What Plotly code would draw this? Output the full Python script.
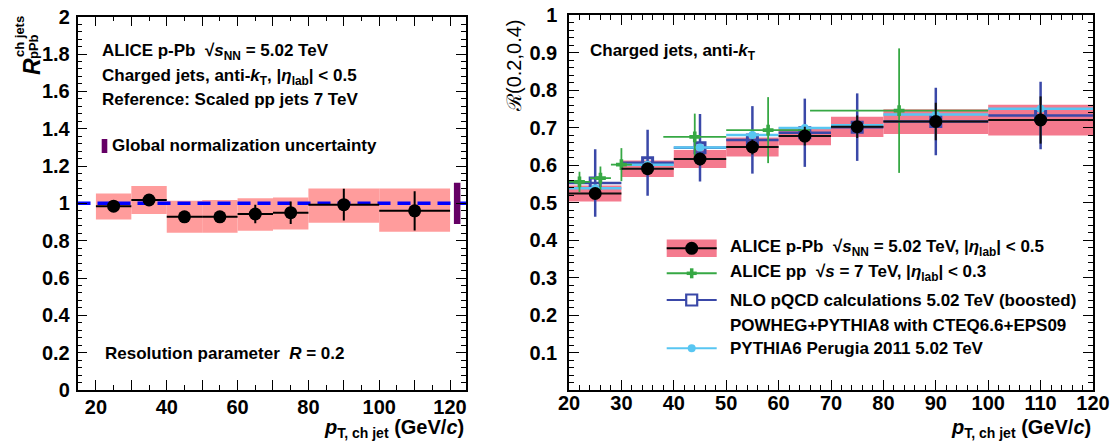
import plotly.graph_objects as go

# ---------------- data : left panel (R_pPb) ----------------
rppb_x = [25, 35, 45, 55, 65, 75, 90, 110]
rppb_halfw = [5, 5, 5, 5, 5, 5, 10, 10]
rppb_y = [0.985, 1.018, 0.928, 0.928, 0.943, 0.950, 0.993, 0.960]
rppb_stat = [0.02, 0.02, 0.02, 0.02, 0.05, 0.06, 0.085, 0.105]
rppb_sys_lo = [0.914, 0.943, 0.843, 0.843, 0.853, 0.860, 0.896, 0.848]
rppb_sys_hi = [1.053, 1.093, 1.014, 1.018, 1.027, 1.032, 1.080, 1.080]
glob_x = [122]
glob_y = [1.0]
glob_unc = [0.11]
ref_line = [1.0]

# ---------------- data : right panel (R(0.2,0.4)) ----------------
rat_x = [25, 35, 45, 55, 65, 75, 90, 110]
rat_halfw = [5, 5, 5, 5, 5, 5, 10, 10]
rat_y = [0.524, 0.590, 0.616, 0.648, 0.677, 0.702, 0.716, 0.720]
rat_stat = [0.012, 0.015, 0.017, 0.020, 0.025, 0.030, 0.050, 0.063]
rat_sys = [0.021, 0.022, 0.024, 0.025, 0.024, 0.027, 0.033, 0.041]

nlo_y = [0.552, 0.606, 0.646, 0.667, 0.686, 0.701, 0.716, 0.732]
nlo_err = [0.090, 0.088, 0.090, 0.090, 0.091, 0.090, 0.090, 0.090]

py6_y = [0.538, 0.601, 0.647, 0.680, 0.699, 0.706, 0.735, 0.750]

pp_x = [22, 26, 30, 44, 58, 83]
pp_xlo = [20, 24, 28, 38, 50, 66]
pp_xhi = [24, 28, 32, 50, 66, 100]
pp_y = [0.555, 0.565, 0.601, 0.675, 0.693, 0.745]
pp_err = [0.027, 0.031, 0.044, 0.062, 0.088, 0.166]

# tick labels
left_xticks = [20, 30, 40, 50, 60, 70, 80, 90, 100, 110, 120]
left_xtext = ["20", " ", "40", " ", "60", " ", "80", " ", "100", " ", "120"]
left_yticks = [0, 0.2, 0.4, 0.6, 0.8, 1.0, 1.2, 1.4, 1.6, 1.8, 2.0]
left_ytext = ["0", "0.2", "0.4", "0.6", "0.8", "1", "1.2", "1.4", "1.6", "1.8", "2"]
right_xticks = [20, 30, 40, 50, 60, 70, 80, 90, 100, 110, 120]
right_xtext = ["20", "30", "40", "50", "60", "70", "80", "90", "100", "110", "120"]
right_yticks = [0.1, 0.2, 0.3, 0.4, 0.5, 0.6, 0.7, 0.8, 0.9, 1.0]
right_ytext = ["0.1", "0.2", "0.3", "0.4", "0.5", "0.6", "0.7", "0.8", "0.9", "1"]

# ---------------- styling ----------------
W, H = 1118, 445
FONT = "Liberation Sans, Arial, Helvetica, sans-serif"
PINK_L = "#ff9c9c"
PINK_R = "#f47a8e"
PURPLE = "#650065"
BLUE = "#3a48a8"
LBLUE = "#58c6f2"
GREEN = "#36a844"


def px(x):
    return x / W


def py(y):
    return 1 - y / H


L_XR = [14.8, 124.5]
R_XR = [20, 120]

fig = go.Figure()

# ---- left panel ----
fig.add_trace(go.Bar(
    x=rppb_x, y=[h - l for h, l in zip(rppb_sys_hi, rppb_sys_lo)], base=rppb_sys_lo,
    width=[2 * w for w in rppb_halfw], marker=dict(color=PINK_L, line=dict(width=0)),
    xaxis="x", yaxis="y", hoverinfo="skip"))
fig.add_trace(go.Scatter(
    x=L_XR, y=ref_line * 2, mode="lines",
    line=dict(color="#0000ff", width=3.5, dash="13px,7px"), xaxis="x", yaxis="y"))
fig.add_trace(go.Scatter(
    x=glob_x * 2, y=[glob_y[0] - glob_unc[0], glob_y[0] + glob_unc[0]], mode="lines",
    line=dict(color=PURPLE, width=6.5), xaxis="x", yaxis="y"))
fig.add_trace(go.Scatter(
    x=rppb_x, y=rppb_y, mode="markers",
    marker=dict(color="black", size=13, symbol="circle"),
    error_x=dict(type="data", array=rppb_halfw, color="black", thickness=2, width=0),
    error_y=dict(type="data", array=rppb_stat, color="black", thickness=2, width=0),
    xaxis="x", yaxis="y"))

# ---- right panel ----
fig.add_trace(go.Bar(
    x=rat_x, y=[2 * s for s in rat_sys], base=[v - s for v, s in zip(rat_y, rat_sys)],
    width=[2 * w for w in rat_halfw], marker=dict(color=PINK_R, line=dict(width=0)),
    xaxis="x2", yaxis="y2", hoverinfo="skip"))
fig.add_trace(go.Scatter(
    x=rat_x, y=nlo_y, mode="markers",
    marker=dict(color=BLUE, size=10, symbol="square-open", line=dict(width=3, color=BLUE)),
    error_x=dict(type="data", array=rat_halfw, color=BLUE, thickness=2.5, width=0),
    error_y=dict(type="data", array=nlo_err, color=BLUE, thickness=2.5, width=0),
    xaxis="x2", yaxis="y2"))
fig.add_trace(go.Scatter(
    x=rat_x, y=py6_y, mode="markers",
    marker=dict(color=LBLUE, size=8, symbol="circle"),
    error_x=dict(type="data", array=rat_halfw, color=LBLUE, thickness=2.5, width=0),
    xaxis="x2", yaxis="y2"))
fig.add_trace(go.Scatter(
    x=pp_x, y=pp_y, mode="markers",
    marker=dict(color=GREEN, size=9, symbol="cross"),
    error_x=dict(type="data", symmetric=False,
                 array=[h - x for h, x in zip(pp_xhi, pp_x)],
                 arrayminus=[x - l for l, x in zip(pp_xlo, pp_x)],
                 color=GREEN, thickness=1.8, width=0),
    error_y=dict(type="data", array=pp_err, color=GREEN, thickness=1.8, width=0),
    xaxis="x2", yaxis="y2"))
fig.add_trace(go.Scatter(
    x=rat_x, y=rat_y, mode="markers",
    marker=dict(color="black", size=13, symbol="circle"),
    error_x=dict(type="data", array=rat_halfw, color="#111111", thickness=2, width=0),
    error_y=dict(type="data", array=rat_stat, color="#111111", thickness=2, width=0),
    xaxis="x2", yaxis="y2"))


def axis_common(size, standoff):
    return dict(showline=True, linecolor="black", linewidth=1.5, mirror="allticks",
                ticks="inside", ticklen=10, tickwidth=1.3, tickcolor="black",
                showgrid=False, zeroline=False, automargin=False,
                ticklabeloverflow="allow", ticklabelstandoff=standoff,
                tickfont=dict(family=FONT, size=size, color="black", weight="bold"))


fig.update_layout(
    width=W, height=H, margin=dict(l=0, r=0, t=0, b=0, pad=0, autoexpand=False),
    paper_bgcolor="white", plot_bgcolor="white", showlegend=False,
    barmode="overlay",
    xaxis=dict(domain=[px(77.5), px(466)], range=L_XR, anchor="y",
               tickmode="array", tickvals=left_xticks, ticktext=left_xtext,
               minor=dict(ticks="inside", ticklen=5, dtick=5, tick0=0, tickcolor="black", tickwidth=1.2),
               **axis_common(20, -2)),
    yaxis=dict(domain=[py(390), py(16.7)], range=[0, 2], anchor="x",
               tickmode="array", tickvals=left_yticks, ticktext=left_ytext,
               minor=dict(ticks="inside", ticklen=5, dtick=0.04, tick0=0, tickcolor="black", tickwidth=1.2),
               **axis_common(20, 2)),
    xaxis2=dict(domain=[px(569), px(1093)], range=R_XR, anchor="y2",
                tickmode="array", tickvals=right_xticks, ticktext=right_xtext,
                minor=dict(ticks="inside", ticklen=5, dtick=2, tick0=0, tickcolor="black", tickwidth=1.2),
                **axis_common(20, -6)),
    yaxis2=dict(domain=[py(390), py(15)], range=[0, 1], anchor="x2",
                tickmode="array", tickvals=right_yticks, ticktext=right_ytext,
                minor=dict(ticks="inside", ticklen=5, dtick=0.02, tick0=0, tickcolor="black", tickwidth=1.2),
                **axis_common(20, 6)),
)

ann = []


def text(x, y, s, size=17, xanchor="left", angle=0, bold=True, yanchor="middle"):
    ann.append(dict(x=px(x), y=py(y), xref="paper", yref="paper", text=s, showarrow=False,
                    xanchor=xanchor, yanchor=yanchor, textangle=angle,
                    font=dict(family=FONT, size=size, color="black",
                              weight="bold" if bold else "normal")))


NB = "\u00a0"
# left panel texts
text(100, 51.7, f"ALICE p-Pb{NB}{NB}√<i>s</i><sub>NN</sub> = 5.02 TeV")
text(100, 76.7, "Charged jets, anti-<i>k</i><sub>T</sub>, |<i>η</i><sub>lab</sub>| &lt; 0.5")
text(100, 99.3, "Reference: Scaled pp jets 7 TeV")
text(109.5, 145.7, "Global normalization uncertainty")
text(103, 353.3, f"Resolution parameter{NB}{NB}<i>R</i> = 0.2")
# right panel text
text(588, 51.7, "Charged jets, anti-<i>k</i><sub>T</sub>")

# axis titles
text(32, 67, "<i>R</i>", size=23, xanchor="center", angle=-90)
text(19, 37, "ch jets", size=13, xanchor="center", angle=-90)
text(34, 47, "pPb", size=13, xanchor="center", angle=-90)
text(514, 66, "ℛ(0.2,0.4)", size=20, xanchor="center", angle=-90, bold=False)
text(466, 428, "<i>p</i><sub>T, ch jet</sub> (GeV/<i>c</i>)", size=20, xanchor="right")
text(1093, 428, "<i>p</i><sub>T, ch jet</sub> (GeV/<i>c</i>)", size=20, xanchor="right")

# legend texts
LX = 728.3
text(LX, 248.3, f"ALICE p-Pb{NB}{NB}√<i>s</i><sub>NN</sub> = 5.02 TeV, |<i>η</i><sub>lab</sub>| &lt; 0.5")
text(LX, 273.3, f"ALICE pp{NB}{NB}√<i>s</i> = 7 TeV, |<i>η</i><sub>lab</sub>| &lt; 0.3")
text(LX, 300, "NLO pQCD calculations 5.02 TeV (boosted)")
text(LX, 325, "POWHEG+PYTHIA8 with CTEQ6.6+EPS09")
text(LX, 348.3, "PYTHIA6 Perugia 2011 5.02 TeV")

shapes = []
# purple swatch for global normalization label
shapes.append(dict(type="rect", xref="paper", yref="paper", x0=px(101.7), x1=px(107.3),
                   y0=py(153), y1=py(139), fillcolor=PURPLE, line=dict(width=0)))
# legend symbols
s0, s1, sm = 666.7, 716.7, 691.7
shapes.append(dict(type="rect", xref="paper", yref="paper", x0=px(s0), x1=px(s1),
                   y0=py(257), y1=py(239.5), fillcolor=PINK_R, line=dict(width=0)))
for yy, col, w in [(248.3, "black", 2), (273.3, GREEN, 2), (300, BLUE, 2), (348.3, LBLUE, 2)]:
    shapes.append(dict(type="line", xref="paper", yref="paper", x0=px(s0), x1=px(s1),
                       y0=py(yy), y1=py(yy), line=dict(color=col, width=w)))
shapes.append(dict(type="circle", xref="paper", yref="paper", x0=px(sm - 6.5), x1=px(sm + 6.5),
                   y0=py(248.3 + 6.5), y1=py(248.3 - 6.5), fillcolor="black", line=dict(width=0)))
shapes.append(dict(type="line", xref="paper", yref="paper", x0=px(sm - 5), x1=px(sm + 5),
                   y0=py(273.3), y1=py(273.3), line=dict(color=GREEN, width=3.5)))
shapes.append(dict(type="line", xref="paper", yref="paper", x0=px(sm), x1=px(sm),
                   y0=py(268.3), y1=py(278.3), line=dict(color=GREEN, width=3.5)))
shapes.append(dict(type="rect", xref="paper", yref="paper", x0=px(sm - 5.5), x1=px(sm + 5.5),
                   y0=py(305.5), y1=py(294.5), fillcolor="white", line=dict(color=BLUE, width=2.2)))
shapes.append(dict(type="circle", xref="paper", yref="paper", x0=px(sm - 4), x1=px(sm + 4),
                   y0=py(352.3), y1=py(344.3), fillcolor=LBLUE, line=dict(width=0)))

fig.update_layout(annotations=ann, shapes=shapes)
fig.write_html("out.html", config={"displayModeBar": False},
               post_script="document.body.style.margin='0';document.body.style.overflow='hidden';")
